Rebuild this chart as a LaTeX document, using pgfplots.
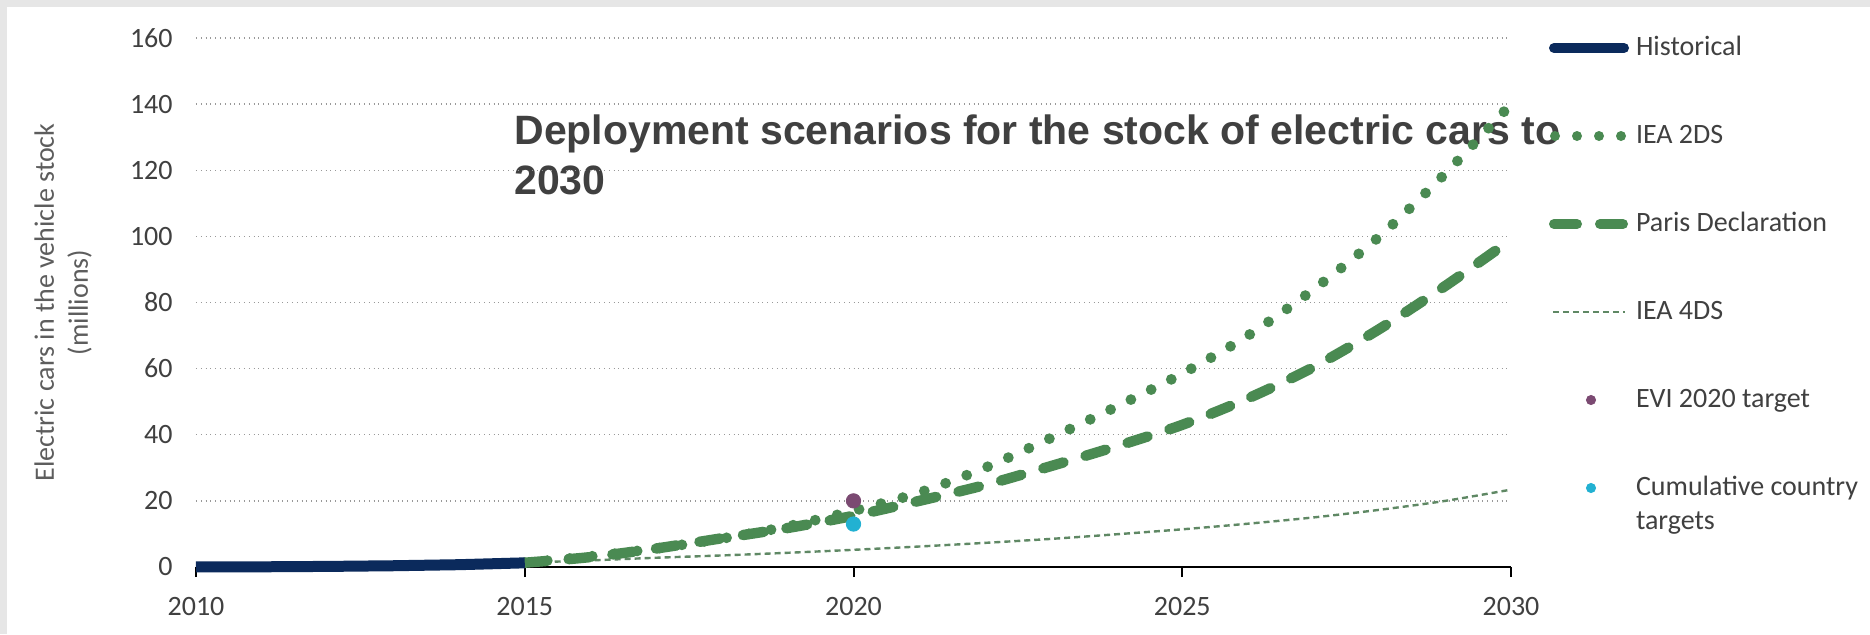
\documentclass[border=0pt]{standalone}
\usepackage{pgfplots}
\pgfplotsset{compat=1.18}
\usepackage{fontspec}
\setmainfont{Carlito}
\newfontfamily\titlefont{Liberation Sans}
\definecolor{navy}{HTML}{0B2A5C}
\definecolor{grn}{HTML}{4A8A52}
\definecolor{grnf}{HTML}{5F8864}
\definecolor{evi}{HTML}{7B4A72}
\definecolor{cum}{HTML}{22B1D2}
\definecolor{txt}{HTML}{404040}
\definecolor{bord}{HTML}{E6E6E6}
\begin{document}
\begin{tikzpicture}
\fill[bord] (0,0) rectangle (935pt,317pt);
\fill[white] (3.5pt,0) rectangle (935pt,313.5pt);
\node[anchor=base west, align=left, text=txt, font=\titlefont\bfseries\fontsize{20.5}{25}\selectfont, inner sep=0pt] at (257pt,219.6pt) {Deployment scenarios for the stock of electric cars to\\2030};
\begin{axis}[
  at={(98pt,33.5pt)}, anchor=south west,
  scale only axis, width=657.5pt, height=264.5pt,
  xmin=2010, xmax=2030, ymin=0, ymax=160,
  clip=false,
  xtick={2010,2015,2020,2025,2030},
  ytick={0,20,40,60,80,100,120,140,160},
  axis x line=bottom, axis y line=left,
  x axis line style={-, black, line width=1pt},
  y axis line style={draw=none},
  tick align=outside,
  major tick length=5pt,
  xtick style={black, line width=1pt},
  ytick style={draw=none},
  ymajorgrids,
  major grid style={gray!80, dotted, line width=0.7pt},
  /pgf/number format/1000 sep={},
  /pgf/number format/assume math mode=true,
  tick label style={font=\fontsize{14}{17}\selectfont, text=txt},
  xticklabel style={inner sep=0pt, anchor=north, yshift=-10pt},
  yticklabel style={inner sep=0pt, anchor=east, xshift=-6.5pt},
  ylabel={Electric cars in the vehicle stock\\(millions)},
  every axis y label/.style={at={(axis description cs:-0.1011,0.5)}, rotate=90, anchor=center, align=center, font=\fontsize{14}{17}\selectfont, text=txt!85},
  legend style={draw=none, fill=none, inner sep=0pt, outer sep=0pt,
    at={(axis description cs:1.0289,1.00945)}, anchor=north west,
    font=\fontsize{14}{17}\selectfont, text=txt,
    row sep=29pt, column sep=1pt,
    nodes={inner sep=0pt, text height=11pt, text depth=4pt}},
  legend cell align=left,
]
\addplot[grnf, line width=1.2pt, dash pattern=on 3pt off 2pt, smooth, forget plot]
  coordinates {(2015,1.3)(2016,2.0)(2017,2.8)(2018,3.5)(2019,4.3)(2020,5.2)(2021,6.2)(2022,7.3)(2023,8.5)(2024,9.9)(2025,11.4)(2026,13.1)(2027,15.0)(2028,17.3)(2029,20.0)(2030,23.4)};
\addplot[grn, line width=5.2pt, line cap=round, dash pattern=on 10.5pt off 11.5pt, smooth, forget plot]
  coordinates {(2015,1.3)(2016,3.0)(2017,5.6)(2018,8.7)(2019,11.8)(2020,15.5)(2021,20.0)(2022,24.8)(2023,30.5)(2024,36.5)(2025,43.0)(2026,51.0)(2027,60.5)(2028,72.0)(2029,85.0)(2030,99.0)};
\addplot[grn, line width=5.4pt, line cap=round, dash pattern=on 0pt off 11.3pt, smooth, forget plot]
  coordinates {(2015,1.3)(2016,3.2)(2017,5.6)(2018,8.6)(2019,12.3)(2020,17.0)(2021,22.5)(2022,30.0)(2023,39.0)(2024,48.5)(2025,58.5)(2026,70.0)(2027,84.0)(2028,100.0)(2029,119.0)(2030,140.0)};
\addplot[navy, line width=5.5pt, forget plot]
  coordinates {(2010,0.02)(2011,0.06)(2012,0.18)(2013,0.38)(2014,0.7)(2015,1.26)};
\addplot[only marks, mark=*, mark size=3.6pt, color=evi, forget plot] coordinates {(2020,20)};
\addplot[only marks, mark=*, mark size=3.6pt, color=cum, forget plot] coordinates {(2020,13)};
% legend entries
\addlegendimage{legend image code/.code={\draw[navy, line width=5pt, line cap=round] (2.5pt,0pt) -- (37.5pt,0pt);}}
\addlegendentry{Historical}
\addlegendimage{legend image code/.code={\draw[grn, line width=5pt, line cap=round, dash pattern=on 0pt off 11pt] (3pt,0pt) -- (40pt,0pt);}}
\addlegendentry{IEA 2DS}
\addlegendimage{legend image code/.code={\draw[grn, line width=5pt, line cap=round, dash pattern=on 11.5pt off 11.5pt] (2.5pt,0pt) -- (40pt,0pt);}}
\addlegendentry{Paris Declaration}
\addlegendimage{legend image code/.code={\draw[grnf, line width=1.2pt, dash pattern=on 3pt off 2pt] (2pt,0pt) -- (38pt,0pt);}}
\addlegendentry{IEA 4DS}
\addlegendimage{legend image code/.code={\fill[evi] (21pt,0pt) circle (2.3pt);}}
\addlegendentry{EVI 2020 target}
\addlegendimage{legend image code/.code={\fill[cum] (21pt,0pt) circle (2.3pt);}}
\addlegendentry{\begin{tabular}[t]{@{}l@{}}Cumulative country\\targets\end{tabular}}
\end{axis}
\pgfresetboundingbox
\path[use as bounding box] (0,0) rectangle (935pt,317pt);
\end{tikzpicture}
\end{document}
